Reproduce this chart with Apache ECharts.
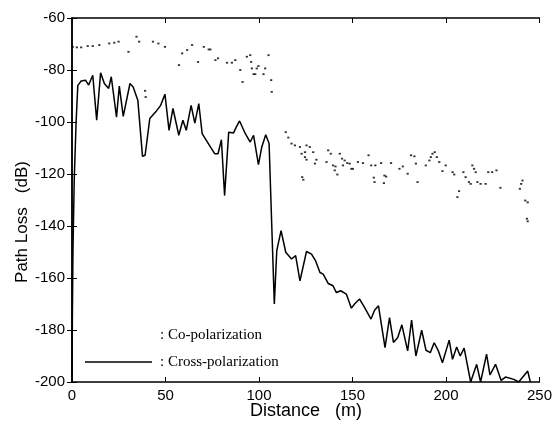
<!DOCTYPE html>
<html>
<head>
<meta charset="utf-8">
<script src="https://cdn.jsdelivr.net/npm/echarts@6/dist/echarts.min.js"></script>
<style>html,body{margin:0;padding:0;background:#fff}#c{width:555px;height:426px}</style>
</head>
<body>
<div id="c"></div>
<script>
var xTicks = [0, 50, 100, 150, 200, 250];
var yTicks = [-200, -180, -160, -140, -120, -100, -80, -60];
var seriesNames = [': Co-polarization', ': Cross-polarization'];

var crossPol = [[0,-200],[0.2,-175],[0.5,-150],[1.2,-122],[2.2,-100],[3.1,-86],[4.9,-84.2],[7.2,-83.9],[8.9,-85.8],[11.1,-82],[13.2,-99.3],[15.3,-81.1],[17.3,-85.2],[19.6,-87.1],[21,-82.6],[23.8,-98.1],[25.3,-86.2],[27.4,-97.8],[31,-85.2],[32.7,-86.5],[35.2,-91.6],[37.7,-113.2],[39.1,-112.8],[41.6,-98.7],[44.8,-96.1],[47.4,-93.6],[49.7,-89.3],[51.9,-103.2],[54,-94.8],[57.1,-105.1],[59.3,-99.3],[61.1,-103.2],[63.7,-93.6],[65.7,-100.4],[67.8,-92.9],[69.6,-104.5],[74,-109.6],[76.3,-112.2],[78.1,-112.2],[79.9,-106.8],[81.6,-128.3],[83.8,-103.9],[86.4,-104.2],[87.9,-101.9],[89.6,-99.6],[92.7,-104.5],[95.3,-107.7],[97.1,-105.1],[99.7,-116.4],[101.5,-109.6],[103.6,-104.9],[105.4,-108.3],[106.8,-139.2],[108.2,-170],[109.5,-149.5],[111.8,-141.8],[114.3,-150.1],[117.4,-152.7],[119.6,-151.4],[121.9,-161.1],[125.4,-149.8],[128.1,-150.8],[130.2,-153.3],[132.6,-157.9],[134.3,-158.5],[137,-162.1],[139.6,-163],[141.4,-165.6],[143.7,-164.9],[146.7,-166.2],[149.4,-171.6],[151.1,-170],[153.8,-168.1],[156.5,-171.4],[159.9,-175.8],[161.8,-172.4],[163.9,-170.7],[167.4,-186.8],[169.8,-175.2],[171.9,-184.8],[174.2,-182.9],[176.4,-178],[179.5,-188],[181.6,-176.2],[183.9,-190],[187,-180.1],[189.3,-187.8],[191.6,-188.7],[193.7,-184.9],[195.8,-187.8],[198.1,-192.6],[201.7,-183.9],[203.5,-191.3],[205.7,-186.5],[207.6,-190],[209.7,-187],[213.2,-200],[216.4,-193.2],[218.5,-200],[221.7,-189.3],[223.5,-197.3],[226.5,-193.2],[229.5,-199.4],[231.8,-198.1],[236.3,-199],[238.9,-200],[243.7,-195.8],[245.1,-200]];

var coPol = [[0.4,-71.1],[2.6,-71.3],[4.9,-71.3],[8.4,-70.8],[11.1,-70.8],[14.6,-70.4],[19.9,-69.8],[22.6,-69.5],[24.9,-69.1],[30.2,-73],[34.5,-67.2],[35.9,-69.1],[39.1,-88],[39.4,-90.4],[43.3,-69.1],[46.2,-69.8],[49.7,-71.1],[57.2,-78.1],[58.9,-73.6],[61.6,-72.3],[64.2,-70.4],[67.4,-76.9],[70.5,-71.1],[73.1,-72.1],[74,-72.1],[76.7,-76.2],[78.1,-75.5],[82.9,-77.2],[85.5,-77.2],[87.3,-76.2],[90,-80],[91.2,-84.6],[93.5,-74.9],[95.3,-74.3],[95.8,-76.9],[96.2,-79.4],[97.1,-81.6],[98,-81.6],[98.8,-79.4],[99.7,-78.5],[102.4,-81.6],[103.3,-79.4],[105.1,-74.3],[106.5,-83.9],[106.8,-88.4],
[114.3,-103.9],[115.7,-106],[117.4,-108.3],[119.2,-109],[121.9,-109.6],[122.8,-112.2],[123.1,-121.2],[123.7,-122.2],[124.6,-111.6],[125.4,-109],[127.2,-109.6],[124.6,-113.5],[125.4,-114.5],[129,-111.6],[130.7,-114.5],[129.9,-116],[137,-110.9],[138.4,-112.2],[136.1,-115.4],[139.6,-116.7],[140.9,-117.1],[140.5,-118.6],[141.9,-120.2],[143.2,-112.2],[144.4,-114.1],[145.8,-114.8],[144.9,-116.7],[147.2,-115.8],[148.5,-116],[149.4,-118],[150.2,-118],[152.9,-115.4],[155.6,-115.8],[158.6,-112.8],[160,-116.7],[161.4,-121.4],[161.8,-123.1],[162.2,-116.7],[165.3,-115.8],[167.1,-120.6],[168,-121],[166.8,-123.5],[170.6,-115.8],[175.1,-118],[176.9,-117.1],[179.5,-119.9],[181.3,-112.8],[183.1,-113.2],[183.9,-116],[184.8,-123.1],[189.2,-116.7],[191.1,-114.8],[191.9,-113.5],[192.8,-112.2],[194,-111.6],[195.1,-113.5],[196.4,-115.4],[198.1,-118.9],[199.9,-116.7],[203.5,-119.3],[204.4,-120.2],[206.1,-128.9],[207,-126.6],[209.3,-119.3],[210.5,-121.2],[212.3,-123.1],[213.2,-123.8],[214.1,-116.7],[215,-118],[215.9,-119.3],[216.8,-123.1],[218.5,-123.8],[221.2,-123.8],[222.6,-119.3],[224.7,-119.3],[227,-118.6],[229.1,-125.3],[239.5,-125.7],[240.2,-123.8],[240.9,-122.5],[242.4,-130.2],[243.7,-130.9],[243.3,-137.2],[243.7,-138.2]];

var chart = echarts.init(document.getElementById('c'), null, {renderer: 'canvas'});
var axisLine = {show: true, lineStyle: {color: '#000', width: 1.5}};
var tick = {show: true, inside: true, length: 5, lineStyle: {color: '#000', width: 1}};
var lbl = {color: '#000', fontFamily: 'Liberation Sans, Arial', fontSize: 15};
chart.setOption({
  animation: false,
  backgroundColor: '#fff',
  grid: {left: 72, right: 14, top: 18, bottom: 44, containLabel: false},
  xAxis: [
    {type: 'value', min: xTicks[0], max: xTicks[xTicks.length-1], interval: 50, position: 'bottom',
     axisLine: axisLine, axisTick: tick, splitLine: {show: false},
     axisLabel: Object.assign({margin: 6}, lbl)},
    {type: 'value', min: xTicks[0], max: xTicks[xTicks.length-1], interval: 50, position: 'top',
     axisLine: axisLine, axisTick: tick, splitLine: {show: false}, axisLabel: {show: false}}
  ],
  yAxis: [
    {type: 'value', min: yTicks[0], max: yTicks[yTicks.length-1], interval: 20, position: 'left',
     axisLine: axisLine, axisTick: tick, splitLine: {show: false},
     axisLabel: Object.assign({margin: 7}, lbl)},
    {type: 'value', min: yTicks[0], max: yTicks[yTicks.length-1], interval: 20, position: 'right',
     axisLine: axisLine, axisTick: tick, splitLine: {show: false}, axisLabel: {show: false}}
  ],
  series: [
    {name: seriesNames[0], type: 'scatter', data: coPol, symbol: 'rect', symbolSize: [2.2, 1.8],
     itemStyle: {color: '#000'}, xAxisIndex: 0, yAxisIndex: 0, silent: true},
    {name: seriesNames[1], type: 'line', data: crossPol, showSymbol: false, symbol: 'none',
     lineStyle: {color: '#000', width: 1.5}, xAxisIndex: 0, yAxisIndex: 0, clip: true, silent: true}
  ],
  graphic: [
    {type: 'text', left: 250, top: 402, style: {text: 'Distance   (m)', fontFamily: 'Liberation Sans, Arial', fontSize: 18, fill: '#000'}},
    {type: 'text', x: 22, y: 222, rotation: Math.PI/2, style: {text: 'Path Loss   (dB)', fontFamily: 'Liberation Sans, Arial', fontSize: 17, fill: '#000', align: 'center', verticalAlign: 'middle'}},
    {type: 'line', shape: {x1: 85, y1: 362, x2: 152, y2: 362}, style: {stroke: '#000', lineWidth: 1.5}},
    {type: 'text', x: 160, y: 335, style: {text: seriesNames[0], fontFamily: 'Liberation Serif, Times New Roman', fontSize: 15, fill: '#000', verticalAlign: 'middle'}},
    {type: 'text', x: 160, y: 362, style: {text: seriesNames[1], fontFamily: 'Liberation Serif, Times New Roman', fontSize: 15, fill: '#000', verticalAlign: 'middle'}}
  ]
});
</script>
</body>
</html>
